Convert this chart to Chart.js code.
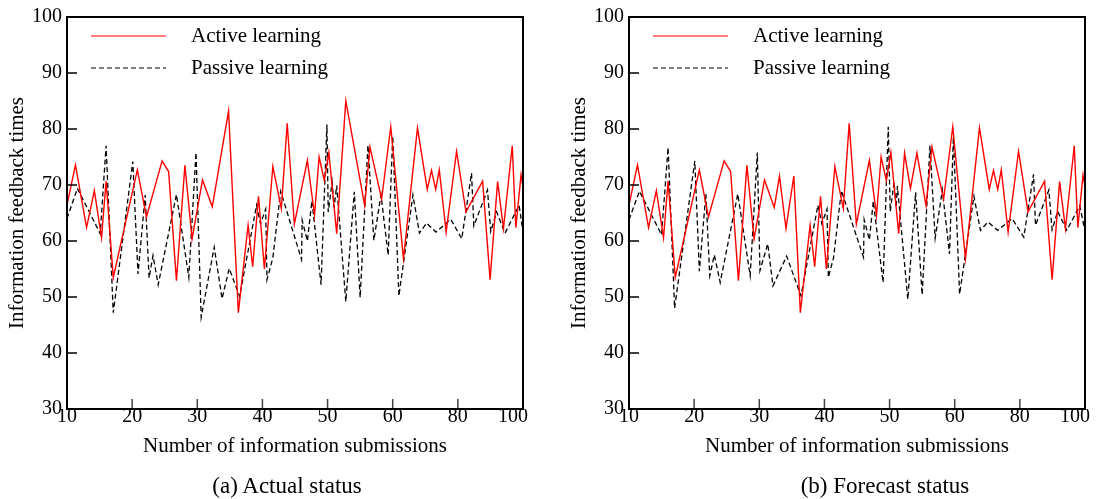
<!DOCTYPE html>
<html>
<head>
<meta charset="utf-8">
<script src="https://cdn.jsdelivr.net/npm/chart.js@4.4.0/dist/chart.umd.min.js"></script>
<style>
    body { margin: 0; background: #fff; }
    #wrap { position: relative; width: 1097px; height: 499px; overflow: hidden; font-family: 'Liberation Serif', 'Times New Roman', serif; color: #000; }
    .panel { position: absolute; top: 0; width: 550px; height: 499px; }
    .caption { position: absolute; top: 473px; font-size: 23px; line-height: 26px; white-space: nowrap; transform: translateX(-50%); }
</style>
</head>
<body>
<div id="wrap">
    <div class="panel" style="left: 0"><canvas id="actualChart"></canvas></div>
    <div class="panel" style="left: 562px"><canvas id="forecastChart"></canvas></div>
    <div class="caption" style="left: 287px">(a) Actual status</div>
    <div class="caption" style="left: 885px">(b) Forecast status</div>
</div>
<script>
// tick labels of the x axis (evenly spaced, 60 -> 80 -> 100 are wider steps)
const xTickLabels = [10, 20, 30, 40, 50, 60, 80, 100]

// (a) actual status
const actualActiveX = [10, 11.3, 13.0, 14.2, 15.3, 16.0, 17.1, 20.8, 22.2, 24.6, 25.6, 26.8, 28.1, 29.2, 30.8, 32.3, 34.8, 36.3, 37.8, 38.5, 39.4, 40.3, 41.6, 42.9, 43.8, 44.9, 46.9, 48.0, 48.7, 49.5, 50.2, 51.4, 52.8, 55.7, 56.5, 58.3, 59.7, 63.3, 67.6, 70.6, 71.9, 73.2, 74.3, 76.4, 79.6, 82.5, 87.6, 89.9, 92.2, 94.0, 96.7, 97.8, 99.4, 100]
const actualActiveY = [66.4, 73.6, 62.4, 69.0, 60.6, 70.7, 53.5, 72.7, 64.3, 74.3, 72.4, 52.9, 73.5, 60.4, 70.9, 66.1, 83.2, 47.2, 62.8, 55.4, 68.0, 55.0, 73.3, 65.8, 81.0, 63.0, 74.4, 64.6, 75.0, 70.8, 75.8, 61.3, 85.0, 66.3, 76.8, 67.5, 80.4, 56.8, 80.2, 69.2, 72.6, 69.2, 72.7, 61.6, 76.0, 65.2, 70.7, 53.1, 70.6, 62.2, 77.0, 62.4, 71.8, 69.7]
const actualPassiveX = [10, 11.6, 15.1, 16.0, 17.1, 20.1, 20.9, 22.0, 22.6, 23.2, 24.0, 26.8, 28.7, 29.8, 30.6, 32.6, 33.8, 34.9, 36.5, 39.1, 39.7, 40.5, 40.7, 41.6, 42.8, 46.0, 46.1, 46.9, 47.6, 49.0, 49.9, 50.1, 50.7, 51.0, 51.4, 52.8, 54.1, 55.0, 56.2, 57.1, 58.2, 59.3, 60.0, 61.9, 66.2, 68.2, 70.4, 73.3, 77.8, 81.2, 84.2, 84.9, 89.1, 90.1, 91.9, 94.5, 98.8, 100]
const actualPassiveY = [64.0, 69.4, 61.3, 77.0, 47.2, 74.2, 54.1, 68.2, 53.4, 57.4, 52.2, 68.3, 53.5, 75.8, 46.4, 58.9, 49.7, 55.1, 50.1, 66.4, 63.1, 65.7, 53.1, 57.0, 68.9, 56.7, 63.7, 60.0, 67.2, 52.2, 80.8, 65.2, 70.5, 66.0, 69.9, 49.2, 68.8, 49.9, 77.1, 60.1, 68.2, 57.5, 78.7, 50.2, 68.2, 61.4, 63.2, 61.6, 63.9, 60.4, 72.1, 62.7, 69.1, 61.7, 65.2, 61.4, 66.4, 61.6]

// (b) forecast status
const forecastActiveX = [10, 11.3, 13.0, 14.2, 15.3, 16.0, 17.1, 20.8, 22.2, 24.6, 25.6, 26.8, 28.1, 29.2, 30.8, 32.3, 33.1, 34.1, 35.3, 36.3, 37.8, 38.5, 39.4, 40.3, 41.6, 42.9, 43.8, 44.9, 46.9, 48.0, 48.7, 49.5, 50.2, 51.4, 52.3, 53.2, 54.2, 55.6, 56.5, 58.3, 59.7, 63.3, 67.6, 70.6, 71.9, 73.2, 74.3, 76.4, 79.6, 82.5, 87.6, 89.9, 92.2, 94.0, 96.7, 97.8, 99.4, 100]
const forecastActiveY = [66.4, 73.6, 62.4, 69.0, 60.6, 70.7, 53.5, 72.7, 64.3, 74.3, 72.4, 52.9, 73.5, 60.4, 70.9, 66.0, 71.6, 62.2, 71.6, 47.2, 62.8, 55.4, 68.0, 55.0, 73.3, 65.8, 81.0, 63.0, 74.4, 64.6, 75.0, 70.8, 75.8, 61.3, 75.7, 69.4, 75.7, 66.3, 76.8, 67.5, 80.4, 56.8, 80.2, 69.2, 72.6, 69.2, 72.7, 61.6, 76.0, 65.2, 70.7, 53.1, 70.6, 62.2, 77.0, 62.4, 71.8, 69.7]
const forecastPassiveX = [10, 11.6, 15.0, 16.0, 17.0, 20.1, 20.8, 21.8, 22.4, 23.1, 24.0, 26.7, 28.6, 29.7, 30.1, 31.3, 32.1, 34.2, 36.4, 39.0, 39.6, 40.4, 40.6, 41.4, 42.6, 46.0, 46.1, 46.9, 47.5, 49.0, 49.8, 50.1, 50.7, 51.0, 51.2, 52.8, 54.0, 55.0, 56.2, 57.0, 58.1, 59.2, 59.8, 61.5, 65.9, 67.9, 70.2, 73.2, 77.6, 81.2, 84.2, 84.8, 88.9, 89.9, 91.6, 94.4, 98.4, 100]
const forecastPassiveY = [63.8, 68.9, 61.1, 76.7, 48.0, 74.3, 54.6, 68.4, 53.8, 57.5, 52.6, 68.4, 53.8, 75.8, 54.7, 59.5, 52.0, 57.3, 50.2, 66.4, 63.1, 65.7, 53.5, 57.0, 69.0, 57.1, 63.8, 60.2, 67.1, 52.6, 80.4, 65.3, 70.5, 66.0, 69.8, 49.6, 68.7, 50.4, 77.0, 60.5, 69.1, 57.7, 78.7, 50.5, 68.0, 61.9, 63.4, 61.9, 64.0, 60.7, 71.9, 62.8, 69.1, 62.0, 65.3, 61.9, 66.3, 61.7]

const serif = "'Liberation Serif', 'Times New Roman', serif"
Chart.defaults.font.family = serif
Chart.defaults.color = '#000'

// axis is evenly spaced per tick, so 60..100 is squeezed into two steps
function toAxis(x) {
    return x <= 60 ? x : 60 + (x - 60) / 2
}

function toPoints(xs, ys) {
    return xs.map((x, i) => ({ x: toAxis(x), y: ys[i] }))
}

// box frame, inward ticks and the legend inside the plot
const frameAndLegend = {
    id: 'frameAndLegend',
    afterDraw(chart) {
        const { ctx, chartArea: a, scales } = chart
        const line = (x1, y1, x2, y2) => {
            ctx.beginPath()
            ctx.moveTo(x1, y1)
            ctx.lineTo(x2, y2)
            ctx.stroke()
        }
        ctx.save()
        ctx.strokeStyle = '#000'
        ctx.lineWidth = 1.5
        scales.y.ticks.forEach((t) => {
            const py = scales.y.getPixelForValue(t.value)
            line(a.left, py, a.left + 10, py)
        })
        ctx.strokeStyle = '#444'
        scales.x.ticks.forEach((t) => {
            const px = scales.x.getPixelForValue(t.value)
            line(px, a.bottom, px, a.bottom - 10)
        })
        ctx.strokeStyle = '#000'
        ctx.lineWidth = 2
        ctx.strokeRect(a.left, a.top, a.right - a.left, a.bottom - a.top)

        // legend
        ctx.font = '21px ' + serif
        ctx.textBaseline = 'middle'
        ctx.fillStyle = '#000'
        chart.data.datasets.forEach((ds, i) => {
            const ly = a.top + 19 + i * 32
            ctx.strokeStyle = ds.borderColor
            ctx.lineWidth = 1.2
            ctx.setLineDash(ds.borderDash || [])
            line(a.left + 24, ly, a.left + 99, ly)
            ctx.setLineDash([])
            ctx.fillText(ds.label, a.left + 124, ly)
        })
        ctx.restore()
    },
}

function createPanel(canvasId, activeX, activeY, passiveX, passiveY) {
    const ctx = document.getElementById(canvasId).getContext('2d')
    const font = { family: serif, size: 20 }
    new Chart(ctx, {
        type: 'line',
        data: {
            datasets: [
                {
                    label: 'Active learning',
                    data: toPoints(activeX, activeY),
                    borderColor: '#ff0000',
                    borderWidth: 1.4,
                    pointRadius: 0,
                    tension: 0,
                },
                {
                    label: 'Passive learning',
                    data: toPoints(passiveX, passiveY),
                    borderColor: '#000000',
                    borderWidth: 1.3,
                    borderDash: [5, 3],
                    pointRadius: 0,
                    tension: 0,
                },
            ],
        },
        options: {
            responsive: true,
            maintainAspectRatio: false,
            animation: false,
            layout: { padding: { top: 16, right: 27, left: 0, bottom: 0 } },
            plugins: {
                legend: { display: false },
                tooltip: { enabled: false },
            },
            scales: {
                x: {
                    type: 'linear',
                    min: 10,
                    max: 80,
                    grid: { display: false, drawTicks: false },
                    border: { display: false },
                    ticks: {
                        stepSize: 10,
                        padding: -4,
                        maxRotation: 0,
                        autoSkip: false,
                        font: font,
                        // last label sits inside the frame, pushed left by a trailing space
                        callback: (v) => {
                            const label = xTickLabels[Math.round((v - 10) / 10)]
                            return v === 80 ? label + '\u2003' : label
                        },
                    },
                    title: {
                        display: true,
                        text: 'Number of information submissions',
                        font: { family: serif, size: 21 },
                        padding: { top: 0, bottom: 40 },
                    },
                    afterFit: (scale) => {
                        scale.height = 90
                    },
                },
                y: {
                    min: 30,
                    max: 100,
                    grid: { display: false, drawTicks: false },
                    border: { display: false },
                    ticks: { stepSize: 10, padding: 5, font: font },
                    title: {
                        display: true,
                        text: 'Information feedback times',
                        font: { family: serif, size: 21 },
                        padding: { top: 5, bottom: 0 },
                    },
                    afterFit: (scale) => {
                        scale.width = 67
                    },
                },
            },
        },
        plugins: [frameAndLegend],
    })
}

createPanel('actualChart', actualActiveX, actualActiveY, actualPassiveX, actualPassiveY)
createPanel('forecastChart', forecastActiveX, forecastActiveY, forecastPassiveX, forecastPassiveY)
</script>
</body>
</html>
